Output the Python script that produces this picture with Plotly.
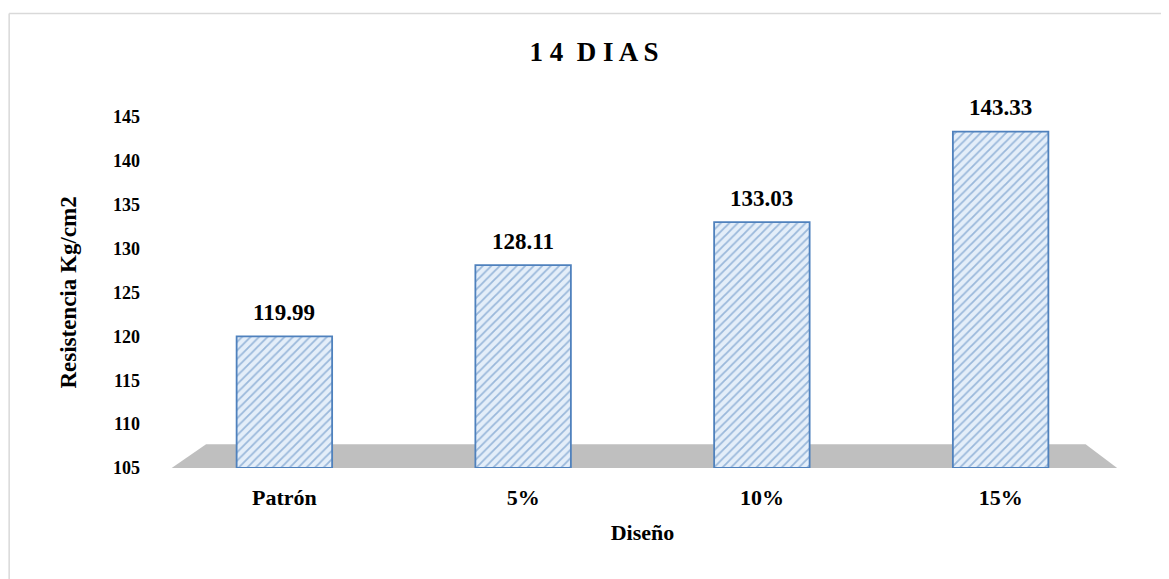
import plotly.graph_objects as go

categories = ["Patrón", "5%", "10%", "15%"]
values = [119.99, 128.11, 133.03, 143.33]
labels = ["119.99", "128.11", "133.03", "143.33"]
y_ticks = [105, 110, 115, 120, 125, 130, 135, 140, 145]

FONT = "Liberation Serif"
BASE = 105

fig = go.Figure()
fig.add_trace(go.Bar(
    x=categories,
    y=[v - BASE for v in values],
    base=BASE,
    width=0.4,
    marker=dict(
        color="#dce9f7",
        line=dict(color="#4f81bd", width=1.8),
        pattern=dict(shape="/", fgcolor="#4f81bd", bgcolor="#e4eef9", size=6, solidity=0.3),
    ),
    hoverinfo="skip",
))
for c, v, t in zip(categories, values, labels):
    fig.add_annotation(x=c, y=v, text=f"<b>{t}</b>", showarrow=False, yshift=24,
                       font=dict(family=FONT, size=23, color="black"))

L, T, W, H = 156.5, 109, 956, 351
fig.update_layout(
    width=1169, height=579,
    paper_bgcolor="white", plot_bgcolor="white",
    margin=dict(l=L, r=1169 - L - W, t=T, b=579 - T - H, autoexpand=False),
    showlegend=False,
    title=dict(text="<b>1 4  D I A S</b>", x=(593 - 7) / 1169, xanchor="center",
               y=1 - (51 - 7) / 579, yanchor="middle",
               font=dict(family=FONT, size=27, color="black")),
    font=dict(family=FONT, color="black"),
)
fig.update_xaxes(
    showline=False, showgrid=False, ticks="",
    tickfont=dict(family=FONT, size=22, color="black", weight="bold"),
    ticklabelstandoff=14,
    title=dict(text="<b>Diseño</b>", font=dict(family=FONT, size=22, color="black"), standoff=15),
)
fig.update_yaxes(
    range=[105, 145], tickvals=y_ticks, showgrid=False, showline=False, zeroline=False,
    tickfont=dict(family=FONT, size=18, color="black", weight="bold"),
    ticklabelstandoff=24,
    title=dict(text="<b>Resistencia Kg/cm2</b>", font=dict(family=FONT, size=23, color="black"), standoff=29),
)
# grey floor
fig.add_shape(type="path", xref="paper", yref="paper",
              path="M 0.007,0 L 0.997,0 L 0.964,0.068 L 0.043,0.068 Z",
              fillcolor="#bfbfbf", line=dict(width=0), layer="below")
# chart border (top and left)
bx = (0.5 - L) / W
by = 1 + (T - 5.5) / H
fig.add_shape(type="line", xref="paper", yref="paper", x0=bx, x1=1.2, y0=by, y1=by,
              line=dict(color="#d9d9d9", width=1.5))
fig.add_shape(type="line", xref="paper", yref="paper", x0=bx, x1=bx, y0=by, y1=-0.6,
              line=dict(color="#d9d9d9", width=1.5))
fig.write_html("out.html")
